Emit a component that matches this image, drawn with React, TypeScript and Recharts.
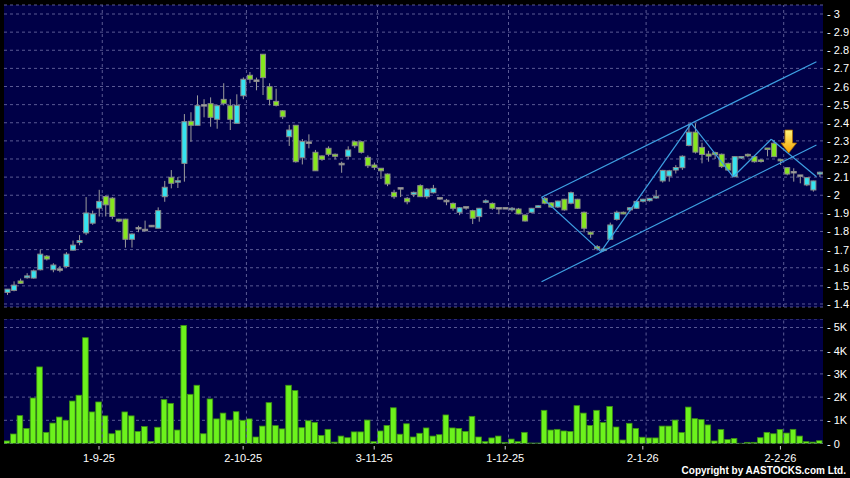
import React from 'react';
import { ComposedChart, Bar, XAxis, YAxis, CartesianGrid, ReferenceLine, ReferenceDot } from 'recharts';

// ---- data ----
const opens = [1.464,1.475,1.527,1.545,1.543,1.589,1.664,1.589,1.59,1.607,1.697,1.739,1.792,1.846,1.929,1.993,1.984,1.868,1.868,1.757,1.818,1.808,1.83,1.818,1.992,2.099,2.072,2.176,2.408,2.386,2.496,2.505,2.419,2.529,2.494,2.397,2.549,2.662,2.632,2.778,2.599,2.518,2.466,2.323,2.386,2.207,2.29,2.237,2.217,2.259,2.226,2.172,2.215,2.295,2.295,2.209,2.167,2.149,2.117,2.016,2.038,1.983,2.005,2.053,1.992,2.014,1.983,1.968,1.955,1.906,1.933,1.915,1.882,1.962,1.955,1.928,1.928,1.92,1.924,1.891,1.906,1.932,1.983,1.958,1.935,1.978,1.956,1.978,1.906,1.796,1.716,1.698,1.757,1.867,1.906,1.919,1.928,1.967,1.97,1.985,2.079,2.106,2.139,2.152,2.275,2.348,2.264,2.227,2.235,2.226,2.176,2.102,2.206,2.225,2.213,2.194,2.258,2.287,2.198,2.152,2.127,2.108,2.057,2.029,2.117];
const highs = [1.482,1.525,1.54,1.57,1.59,1.7,1.67,1.625,1.61,1.686,1.75,1.78,1.99,1.915,2.03,2.0,1.99,1.87,1.87,1.79,1.832,1.86,1.835,1.933,2.079,2.139,2.1,2.448,2.458,2.551,2.53,2.54,2.5,2.618,2.53,2.557,2.65,2.68,2.649,2.778,2.618,2.588,2.47,2.388,2.386,2.31,2.336,2.25,2.22,2.27,2.23,2.185,2.27,2.3,2.3,2.22,2.18,2.15,2.12,2.03,2.038,1.99,2.02,2.06,2.04,2.057,1.99,1.98,1.96,1.935,1.935,1.92,1.93,1.978,1.96,1.928,1.929,1.935,1.93,1.895,1.93,1.945,1.99,1.96,1.97,1.98,2.02,1.98,1.91,1.8,1.725,1.705,1.849,1.915,1.91,1.935,1.97,1.98,1.985,2.029,2.14,2.14,2.166,2.22,2.397,2.397,2.29,2.245,2.24,2.23,2.18,2.215,2.215,2.23,2.22,2.2,2.26,2.305,2.2,2.155,2.149,2.108,2.1,2.08,2.13];
const lows = [1.45,1.47,1.51,1.54,1.54,1.585,1.64,1.575,1.575,1.6,1.695,1.724,1.78,1.837,1.883,1.883,1.868,1.85,1.711,1.711,1.796,1.8,1.825,1.818,1.964,2.038,2.04,2.075,2.295,2.386,2.43,2.378,2.367,2.496,2.36,2.397,2.53,2.618,2.579,2.553,2.496,2.49,2.42,2.272,2.18,2.17,2.259,2.135,2.19,2.215,2.198,2.124,2.198,2.26,2.23,2.15,2.14,2.09,2.05,1.98,1.99,1.95,1.99,1.99,1.98,2.01,1.975,1.945,1.915,1.89,1.92,1.841,1.854,1.955,1.92,1.895,1.927,1.91,1.895,1.855,1.9,1.93,1.95,1.93,1.93,1.915,1.95,1.925,1.795,1.765,1.695,1.69,1.755,1.86,1.895,1.91,1.925,1.96,1.965,1.98,2.07,2.075,2.12,2.14,2.27,2.23,2.176,2.185,2.2,2.15,2.135,2.1,2.2,2.21,2.18,2.18,2.215,2.21,2.167,2.11,2.075,2.066,2.05,2.02,2.1];
const closes = [1.482,1.504,1.514,1.555,1.583,1.675,1.648,1.615,1.59,1.675,1.725,1.75,1.902,1.897,1.966,1.947,1.883,1.857,1.757,1.786,1.818,1.808,1.83,1.915,2.044,2.066,2.08,2.406,2.386,2.494,2.496,2.43,2.494,2.507,2.419,2.496,2.64,2.64,2.632,2.649,2.529,2.496,2.433,2.36,2.185,2.296,2.29,2.135,2.198,2.226,2.215,2.172,2.25,2.273,2.237,2.163,2.154,2.135,2.062,1.992,2.038,1.964,2.016,1.992,2.034,2.038,1.983,1.968,1.928,1.931,1.933,1.873,1.928,1.968,1.928,1.928,1.928,1.928,1.897,1.858,1.928,1.942,1.956,1.935,1.968,1.919,2.014,1.928,1.818,1.785,1.705,1.7,1.836,1.906,1.897,1.931,1.966,1.978,1.983,1.994,2.137,2.135,2.153,2.215,2.348,2.238,2.225,2.216,2.224,2.158,2.139,2.213,2.213,2.218,2.185,2.187,2.255,2.213,2.19,2.117,2.127,2.108,2.097,2.079,2.127];
const volumesK = [0.11,0.41,1.2,0.65,1.96,3.3,0.48,0.88,1.14,1.0,1.83,2.08,4.56,1.36,1.79,1.19,0.42,0.57,1.36,1.19,0.52,0.73,0.09,0.7,1.89,1.73,0.58,5.09,2.12,2.51,0.42,1.92,1.06,1.31,1.01,1.37,1.0,1.06,0.28,0.75,1.76,0.77,0.63,2.51,2.28,0.68,0.98,0.91,0.35,0.61,0.06,0.32,0.25,0.5,0.5,1.01,0.08,0.54,0.78,1.54,0.4,0.85,0.28,0.44,0.67,0.32,0.38,1.23,0.67,0.65,0.52,1.17,0.28,0.08,0.24,0.32,0.05,0.19,0.08,0.48,0.02,0.02,1.43,0.58,0.61,0.54,0.52,1.63,1.31,0.78,1.43,0.9,1.6,0.71,0.15,0.87,0.65,0.27,0.24,0.24,0.75,0.75,1.01,0.47,1.57,1.07,1.03,0.8,0.11,0.6,0.17,0.22,0.01,0.05,0.05,0.25,0.48,0.42,0.6,0.45,0.61,0.32,0.08,0.06,0.12];

const dateTickIndex = [14, 36, 56, 76, 97, 118];
const dateTickLabels = ['1-9-25', '2-10-25', '3-11-25', '1-12-25', '2-1-26', '2-2-26'];
const priceTicks = [1.4, 1.5, 1.6, 1.7, 1.8, 1.9, 2.0, 2.1, 2.2, 2.3, 2.4, 2.5, 2.6, 2.7, 2.8, 2.9, 3.0];
const volumeTicks = [0, 1, 2, 3, 4, 5];

// trend lines (x = candle index, y = price)
const channelUpper = [{ x: 81.54, y: 1.989 }, { x: 123.5, y: 2.737 }];
const channelLower = [{ x: 81.54, y: 1.523 }, { x: 123.5, y: 2.277 }];
const zigzag = [
  { x: 81.54, y: 1.989 },
  { x: 90.6, y: 1.689 },
  { x: 104.4, y: 2.397 },
  { x: 110.8, y: 2.102 },
  { x: 116.6, y: 2.309 },
  { x: 123.5, y: 2.102 },
];
const arrowPoint = { x: 119.27, y: 2.233 };

const data = opens.map((o, i) => ({
  i,
  o,
  h: highs[i],
  l: lows[i],
  c: closes[i],
  range: [lows[i], highs[i]],
  vol: volumesK[i],
}));

// ---- styles ----
const PLOT_BG = '#000047';
const GRID = '#5a5a94';
const CYAN = '#35e3f0';
const GREEN = '#86e61e';
const OUTLINE = '#8a8a8a';
const WICK = '#9c9c9c';
const TREND = '#3d9fe2';
const FONT = '"Liberation Sans", Arial, sans-serif';

const Candle = (props: any) => {
  const { x, y, width, height, payload } = props;
  if (x == null || y == null || !payload) return null;
  const cx = x + width / 2;
  const top = Math.min(y, y + height);
  const bot = Math.max(y, y + height);
  const span = payload.h - payload.l;
  const py = (v: number) => (span > 0 ? top + ((payload.h - v) / span) * (bot - top) : top);
  const yo = py(payload.o);
  const yc = py(payload.c);
  let bt = Math.min(yo, yc);
  let bb = Math.max(yo, yc);
  if (bb - bt < 1.5) {
    const m = (bt + bb) / 2;
    bt = m - 0.75;
    bb = m + 0.75;
  }
  const fill = payload.c > payload.o ? CYAN : payload.c < payload.o ? GREEN : '#b0b0b0';
  const bw = 5;
  return (
    <g>
      <line x1={cx} x2={cx} y1={top} y2={bot} stroke={WICK} strokeWidth={1} />
      <rect x={cx - bw / 2} y={bt} width={bw} height={bb - bt} fill={fill} stroke={OUTLINE} strokeWidth={1} />
    </g>
  );
};

const VolBar = (props: any) => {
  const { x, y, width, height } = props;
  if (x == null || y == null) return null;
  const cx = x + width / 2;
  const w = 5.6;
  return <rect x={cx - w / 2} y={y} width={w} height={Math.max(0, height)} fill="#6cf21c" stroke="#3c9014" strokeWidth={0.8} />;
};

const PriceTick = (props: any) => {
  const { x, y, payload } = props;
  const v = Math.round(payload.value * 10) / 10;
  return (
    <text x={x + 4} y={y + 4} fill="#ffffff" fontSize={11} fontFamily={FONT}>
      {`- ${v}`}
    </text>
  );
};

const VolTick = (props: any) => {
  const { x, y, payload } = props;
  const v = payload.value;
  return (
    <text x={x + 4} y={y + 4} fill="#ffffff" fontSize={11} fontFamily={FONT}>
      {v === 0 ? '- 0' : `- ${v}K`}
    </text>
  );
};

const DateTick = (props: any) => {
  const { x, y, payload } = props;
  const k = dateTickIndex.indexOf(payload.value);
  return (
    <g>
      <line x1={x} x2={x} y1={y + 2.5} y2={y + 6} stroke="#d0d0d0" strokeWidth={1} />
      <text x={x} y={y + 18} textAnchor="middle" fill="#ffffff" fontSize={11} fontFamily={FONT}>
        {k >= 0 ? dateTickLabels[k] : ''}
      </text>
    </g>
  );
};

const Arrow = (props: any) => {
  const { cx, cy } = props;
  if (cx == null || cy == null) return null;
  return (
    <g>
      <defs>
        <linearGradient id="arrowGrad" x1="0" y1="0" x2="0" y2="1">
          <stop offset="0%" stopColor="#fff27a" />
          <stop offset="100%" stopColor="#f5a400" />
        </linearGradient>
      </defs>
      <polygon
        points={`${cx - 3.8},${cy - 23} ${cx + 3.8},${cy - 23} ${cx + 3.8},${cy - 10} ${cx + 7.8},${cy - 10} ${cx},${cy} ${cx - 7.8},${cy - 10} ${cx - 3.8},${cy - 10}`}
        fill="url(#arrowGrad)"
        stroke="#a86a00"
        strokeWidth={0.8}
      />
    </g>
  );
};

const xDomain = [-0.5, 124.5];

export default function App() {
  const zig = zigzag.slice(1).map((p, k) => [zigzag[k], p]);
  return (
    <div style={{ position: 'absolute', left: 0, top: 0, width: 850, height: 478, background: '#000', overflow: 'hidden' }}>
      <div style={{ position: 'absolute', left: 0, top: 0 }}>
        <ComposedChart width={850} height={312} data={data} margin={{ top: 5, right: 0, bottom: 5, left: 4 }}>
          <CartesianGrid vertical={false} stroke={GRID} strokeDasharray="3 3" fill={PLOT_BG} fillOpacity={1} />
          <XAxis type="number" dataKey="i" domain={xDomain} hide allowDataOverflow />
          <YAxis
            orientation="right"
            width={27}
            domain={[1.3834, 3.0497]}
            ticks={priceTicks}
            allowDataOverflow
            axisLine={false}
            tickLine={false}
            tickSize={0}
            tickMargin={0}
            tick={<PriceTick />}
            interval={0}
          />
          {dateTickIndex.map((t) => (
            <ReferenceLine key={'v' + t} x={t + 0.5} stroke={GRID} strokeDasharray="3 3" />
          ))}
          <Bar dataKey="range" barSize={5} shape={<Candle />} isAnimationActive={false} />
          <ReferenceLine segment={channelUpper} stroke={TREND} strokeWidth={1.2} />
          <ReferenceLine segment={channelLower} stroke={TREND} strokeWidth={1.2} />
          {zig.map((seg, k) => (
            <ReferenceLine key={'z' + k} segment={seg} stroke={TREND} strokeWidth={1.2} />
          ))}
          <ReferenceDot x={arrowPoint.x} y={arrowPoint.y} r={0} shape={<Arrow />} />
        </ComposedChart>
      </div>
      <div style={{ position: 'absolute', left: 0, top: 319 }}>
        <ComposedChart width={850} height={159} data={data} margin={{ top: 0, right: 0, bottom: 0, left: 4 }}>
          <CartesianGrid vertical={false} stroke={GRID} strokeDasharray="3 3" fill={PLOT_BG} fillOpacity={1} />
          <XAxis
            type="number"
            dataKey="i"
            domain={xDomain}
            ticks={dateTickIndex}
            interval={0}
            height={34.5}
            axisLine={false}
            tickLine={false}
            tickSize={0}
            tickMargin={0}
            tick={<DateTick />}
            allowDataOverflow
          />
          <YAxis
            orientation="right"
            width={27}
            domain={[0, 5.366]}
            ticks={volumeTicks}
            allowDataOverflow
            axisLine={false}
            tickLine={false}
            tickSize={0}
            tickMargin={0}
            tick={<VolTick />}
            interval={0}
          />
          {dateTickIndex.map((t) => (
            <ReferenceLine key={'vv' + t} x={t + 0.5} stroke={GRID} strokeDasharray="3 3" />
          ))}
          <Bar dataKey="vol" barSize={5.6} shape={<VolBar />} isAnimationActive={false} />
        </ComposedChart>
      </div>
      <div
        style={{
          position: 'absolute',
          right: 4,
          top: 465,
          color: '#ffffff',
          fontFamily: FONT,
          fontSize: 10,
          fontWeight: 'bold',
          lineHeight: '12px',
          whiteSpace: 'nowrap',
        }}
      >
        Copyright by AASTOCKS.com Ltd.
      </div>
    </div>
  );
}
